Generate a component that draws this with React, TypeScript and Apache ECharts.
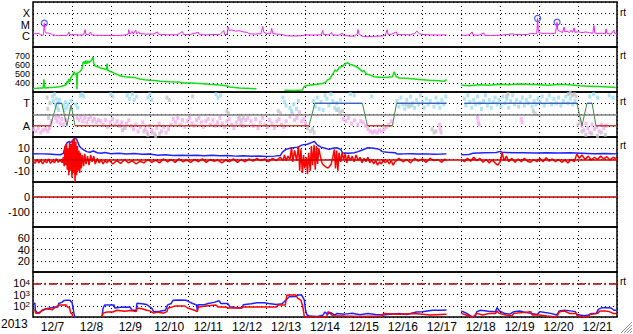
import React, { useEffect, useRef } from "react";
import * as echarts from "echarts";

const FONT = "Liberation Sans, Arial, sans-serif";
const X_MIN = 0;
const X_MAX = 15;
const dayLabels = ["12/7", "12/8", "12/9", "12/10", "12/11", "12/12", "12/13", "12/14", "12/15", "12/16", "12/17", "12/18", "12/19", "12/20", "12/21"];
const yearLabel = "2013";

type P = [number, number | null];

// Panel 1: X-ray flux (W/m2), time in days from 12/7 00:00
const xrayFlux: P[] = [
  [0.0, 1.6e-6], [0.08, 1.5e-6], [0.15, 1.6e-6], [0.2, 1.2e-6], [0.25, 1.1e-6], [0.27, 1.4e-6], [0.29, 1.3e-5], [0.31, 2.5e-6], [0.33, 1.8e-6],
  [0.4, 1.7e-6], [0.46, 1.5e-6], [0.5, 1.2e-6], [0.58, 1.1e-6], [0.66, 1.0e-6], [0.72, 1.1e-6], [0.8, 1.05e-6], [0.88, 1.1e-6], [0.92, 2.2e-6],
  [0.94, 1.3e-6], [1.0, 1.2e-6], [1.1, 1.25e-6], [1.2, 1.15e-6], [1.3, 1.2e-6], [1.34, 3.5e-6], [1.36, 1.3e-6], [1.42, 1.2e-6], [1.48, 2.2e-6],
  [1.5, 1.2e-6], [1.6, 1.1e-6], [1.72, 1.1e-6], [1.85, 1.05e-6], [2.0, 1.1e-6], [2.15, 1.05e-6], [2.3, 1.1e-6], [2.44, 1.3e-6], [2.46, 3.5e-6],
  [2.48, 1.4e-6], [2.55, 2.4e-6], [2.57, 1.4e-6], [2.64, 3.2e-6], [2.66, 1.4e-6], [2.72, 2.3e-6], [2.74, 1.5e-6], [2.8, 1.5e-6], [2.9, 1.4e-6],
  [3.0, 1.4e-6], [3.1, 1.45e-6], [3.2, 2.2e-6], [3.22, 1.4e-6], [3.3, 1.3e-6], [3.45, 1.2e-6], [3.6, 1.25e-6], [3.7, 1.2e-6], [3.84, 2.4e-6],
  [3.86, 1.3e-6], [4.0, 1.2e-6], [4.25, 2.0e-6], [4.27, 1.25e-6], [4.45, 1.2e-6], [4.6, 1.3e-6], [4.8, 1.25e-6], [4.9, 3.0e-6], [4.92, 1.3e-6],
  [4.99, 1.3e-6], [5.01, 6.0e-6], [5.04, 3.0e-6], [5.1, 3.2e-6], [5.2, 2.6e-6], [5.3, 2.8e-6], [5.4, 2.2e-6], [5.5, 2.0e-6], [5.55, 1.5e-6],
  [5.7, 1.4e-6], [5.85, 1.5e-6], [5.9, 6.5e-6], [5.93, 2.0e-6], [6.0, 1.6e-6], [6.1, 1.5e-6], [6.13, 4.5e-6], [6.16, 1.6e-6], [6.25, 1.4e-6],
  [6.4, 1.3e-6], [6.5, 1.0e-6], [6.7, 0.95e-6], [6.9, 1.0e-6], [7.0, 1.2e-6], [7.2, 1.15e-6], [7.4, 1.2e-6], [7.44, 3.0e-6], [7.46, 1.3e-6],
  [7.6, 1.2e-6], [7.67, 2.0e-6], [7.69, 1.2e-6], [7.85, 1.1e-6], [7.95, 1.7e-6], [7.97, 1.1e-6], [8.1, 0.95e-6], [8.25, 0.9e-6], [8.33, 1.5e-6],
  [8.35, 3.5e-6], [8.37, 1.5e-6], [8.45, 0.9e-6], [8.6, 0.85e-6], [8.8, 0.9e-6], [8.97, 0.95e-6], [9.05, 1.2e-6], [9.1, 3.5e-6], [9.12, 1.3e-6],
  [9.2, 1.3e-6], [9.33, 2.2e-6], [9.35, 1.3e-6], [9.5, 1.25e-6], [9.7, 1.2e-6], [9.8, 1.6e-6], [9.86, 2.6e-6], [9.92, 1.5e-6], [10.0, 1.3e-6],
  [10.2, 1.2e-6], [10.4, 1.15e-6], [10.62, 1.2e-6], [10.8, null],
  [11.0, 1.15e-6], [11.1, 1.1e-6], [11.2, 1.2e-6], [11.28, 2.2e-6], [11.3, 1.2e-6], [11.45, 1.1e-6], [11.58, 1.8e-6], [11.6, 1.1e-6], [11.75, 1.05e-6],
  [11.9, 1.1e-6], [12.05, 1.15e-6], [12.2, 1.3e-6], [12.3, 1.5e-6], [12.4, 1.3e-6], [12.55, 1.25e-6], [12.7, 1.3e-6], [12.8, 1.6e-6], [12.9, 1.5e-6],
  [12.94, 1.6e-6], [12.96, 3.4e-5], [12.98, 3.0e-6], [13.0, 1.8e-6], [13.1, 1.6e-6], [13.2, 1.7e-6], [13.3, 1.5e-6], [13.42, 1.7e-6], [13.46, 1.6e-5],
  [13.48, 3.0e-6], [13.55, 2.4e-6], [13.6, 1.9e-6], [13.64, 6.0e-6], [13.66, 2.2e-6], [13.72, 2.5e-6], [13.78, 1.9e-6], [13.82, 3.2e-6], [13.86, 2.0e-6],
  [13.9, 5.0e-6], [13.92, 2.0e-6], [14.0, 2.3e-6], [14.1, 1.9e-6], [14.2, 2.2e-6], [14.3, 1.8e-6], [14.38, 1.7e-6], [14.41, 8.0e-6], [14.43, 1.8e-6],
  [14.5, 1.6e-6], [14.6, 1.7e-6], [14.7, 1.5e-6], [14.72, 4.0e-6], [14.74, 1.6e-6], [14.85, 1.4e-6], [14.92, 3.2e-6], [14.94, 1.6e-6], [15.0, 1.4e-6],
];
const flareMarks: P[] = [[0.29, 1.3e-5], [12.96, 3.5e-5], [13.46, 1.6e-5]];

// Panel 2: solar wind speed (km/s)
const windSpeed: P[] = [
  [0, 340], [0.1, 342], [0.2, 345], [0.26, 345], [0.28, 440], [0.3, 345], [0.44, 350], [0.56, 352], [0.69, 358], [0.8, 372], [0.85, 380],
  [0.88, 420], [0.9, 400], [0.92, 445], [0.95, 415], [0.97, 460], [1.0, 475], [1.03, 500], [1.05, 525], [1.08, 495], [1.12, 505], [1.13, 330],
  [1.14, 510], [1.18, 520], [1.21, 530], [1.24, 545], [1.26, 560], [1.28, 620], [1.31, 640], [1.33, 615], [1.36, 650], [1.38, 610], [1.41, 645],
  [1.44, 625], [1.47, 640], [1.5, 650], [1.54, 690], [1.56, 620], [1.59, 590], [1.63, 585], [1.67, 580], [1.72, 570], [1.78, 560], [1.85, 555],
  [1.89, 545], [1.9, 615], [1.92, 545], [1.97, 530], [2.04, 520], [2.1, 505], [2.17, 495], [2.23, 480], [2.36, 470], [2.49, 465], [2.62, 460],
  [2.74, 445], [2.87, 435], [3.0, 430], [3.13, 428], [3.26, 420], [3.5, 415], [3.77, 410], [3.85, 400], [4.03, 400], [4.28, 395], [4.54, 385],
  [4.79, 378], [4.97, 370], [5.05, 355], [5.31, 345], [5.56, 340], [5.74, 335], [5.8, null],
  [6.46, 320], [6.72, 318], [6.92, 322], [6.97, 365], [7.05, 372], [7.3, 385], [7.44, 395], [7.52, 410], [7.56, 435], [7.62, 445], [7.7, 500],
  [7.76, 545], [7.8, 530], [7.87, 575], [7.95, 585], [8.02, 615], [8.08, 625], [8.13, 610], [8.2, 600], [8.31, 580], [8.38, 560], [8.46, 525],
  [8.5, 540], [8.56, 500], [8.64, 490], [8.77, 470], [8.9, 465], [9.03, 460], [9.23, 470], [9.28, 525], [9.33, 470], [9.41, 455], [9.67, 450],
  [9.92, 440], [10.18, 430], [10.44, 425], [10.56, 418], [10.62, 440], [10.8, null],
  [11.0, 375], [11.21, 370], [11.46, 380], [11.72, 375], [11.97, 385], [12.23, 380], [12.49, 390], [12.74, 385], [13.0, 380], [13.26, 375],
  [13.51, 385], [13.77, 380], [14.03, 370], [14.28, 365], [14.54, 360], [14.79, 355], [14.97, 350],
];

// Panel 3: IMF sector (T = 1, A = -1) and phi-angle dots
const sectorLine: P[] = [
  [0, -1], [0.45, -1], [0.61, 1], [0.74, 1], [0.87, -1], [0.98, 0.85], [1.08, -1], [7.09, -1], [7.24, 1], [8.46, 1], [8.59, -1],
  [9.23, -1], [9.34, 1], [10.62, 1], [10.8, null], [11.08, 1], [13.97, 1], [14.1, -1], [14.23, 1], [14.36, 1], [14.46, -1], [15, -1],
];
const towardDots: P[] = [
  [0.5, 1.6], [0.52, 1.2], [0.55, 1.8], [0.57, 0.9], [0.6, 1.4], [0.62, 0.6], [0.64, 1.0], [0.66, 0.4], [0.68, 1.3],
  [0.78, 0.8], [0.8, 0.4], [0.83, 1.1], [0.86, 0.6], [0.9, 0.9], [0.95, 0.5], [0.98, 1.2],
  [1.1, 0.9], [1.15, 0.6], [1.22, 1.7], [1.26, 1.8], [1.3, 1.6], [2.0, 1.8], [2.05, 1.6],
  [2.42, 1.7], [2.48, 1.4], [2.55, 1.8], [2.6, 1.3], [2.66, 1.6], [2.95, 1.5], [3.0, 1.8], [3.05, 1.3],
  [4.7, 1.8], [4.75, 1.5], [4.82, 1.7],
  [6.42, 1.5], [6.46, 1.1], [6.5, 0.8], [6.6, 0.6], [6.64, 0.3], [6.7, 0.9], [6.77, 0.5], [6.82, 1.2],
  [7.2, 1.2], [7.25, 0.7], [7.3, 1.5], [7.35, 0.5], [7.4, 1.1], [7.45, 0.4], [7.5, 1.7], [7.55, 1.4], [7.6, 0.8], [7.65, 1.8], [7.7, 1.2],
  [7.75, 0.6], [7.8, 1.0], [7.85, 0.5], [7.9, 1.3], [8.15, 1.8], [8.25, 1.7], [8.7, 1.6],
  [9.35, 1.2], [9.4, 0.7], [9.45, 1.5], [9.5, 0.9], [9.55, 0.5], [9.6, 1.3], [9.65, 0.8], [9.7, 1.6], [9.75, 1.0], [9.8, 0.6], [9.85, 1.3],
  [9.9, 0.9], [9.95, 1.7], [10.0, 1.1], [10.05, 0.6], [10.1, 1.4], [10.15, 0.9], [10.2, 1.2], [10.3, 0.7], [10.35, 1.5], [10.4, 1.0],
  [10.45, 0.6], [10.5, 1.3], [10.55, 0.9], [10.6, 1.6],
  [11.08, 1.4], [11.12, 0.8], [11.17, 1.7], [11.22, 1.1], [11.27, 0.6], [11.32, 1.3], [11.37, 0.9], [11.42, 1.6], [11.47, 1.0], [11.52, 0.5],
  [11.57, 1.2], [11.62, 1.7], [11.67, 0.8], [11.72, 1.3], [11.77, 0.6], [11.82, 1.1], [11.87, 1.5], [11.92, 0.9], [11.97, 1.3], [12.02, 0.7],
  [12.07, 1.6], [12.12, 1.0], [12.17, 1.4], [12.22, 0.6], [12.27, 1.2], [12.32, 1.7], [12.37, 0.9], [12.42, 1.3], [12.47, 0.7], [12.52, 1.1],
  [12.57, 1.5], [12.62, 0.8], [12.67, 1.3], [12.72, 1.0], [12.77, 1.6], [12.82, 0.7], [12.87, 1.2], [12.92, 0.9], [12.97, 1.4],
  [13.02, 1.1], [13.08, 1.6], [13.13, 0.8], [13.2, 1.3], [13.26, 1.7], [13.32, 0.9], [13.38, 1.4], [13.44, 1.0], [13.5, 1.5], [13.56, 0.8],
  [13.62, 1.2], [13.68, 1.6], [13.74, 1.0], [13.8, 1.4], [13.86, 0.9], [13.92, 1.2], [14.3, 1.6], [14.4, 1.8], [14.5, 1.5], [14.8, 1.7], [14.9, 1.5],
];
const awayDots: P[] = [
  [0.02, -1.3], [0.08, -1.5], [0.14, -1.2], [0.2, -1.6], [0.26, -1.4], [0.32, -1.3], [0.38, -1.5], [0.43, -1.1], [0.46, -0.9], [0.48, -0.6],
  [0.58, -0.3], [0.62, -0.6], [0.66, -0.2], [0.7, -0.8], [0.74, -0.4], [0.78, -0.9], [0.84, -0.5],
  [1.13, -0.3], [1.18, -0.5], [1.23, -0.2], [1.28, -0.6], [1.33, -0.3], [1.38, -0.7], [1.43, -0.4], [1.48, -0.2], [1.53, -0.6], [1.58, -0.4],
  [1.63, -0.7], [1.68, -0.5], [1.74, -0.6], [1.8, -0.9], [1.86, -0.5], [1.92, -1.1], [1.98, -0.7], [2.04, -0.4], [2.1, -0.9], [2.16, -0.6],
  [2.22, -1.0], [2.28, -0.7], [2.34, -1.2], [2.4, -0.8], [2.46, -0.5], [2.52, -1.0], [2.58, -1.3], [2.64, -0.9], [2.7, -1.5], [2.76, -1.1],
  [2.82, -0.7], [2.88, -1.3], [2.94, -1.6], [3.0, -1.0], [3.06, -1.4], [3.12, -1.7], [3.18, -1.2], [3.24, -0.8], [3.3, -1.5], [3.36, -1.1],
  [3.42, -1.6], [3.48, -1.3], [3.54, -0.9], [3.6, -0.4], [3.66, -0.7], [3.72, -0.3], [3.78, -0.9], [3.84, -0.5], [3.9, -1.1], [3.96, -0.6],
  [4.02, -0.3], [4.08, -0.8], [4.14, -1.0], [4.2, -0.5], [4.26, -0.3], [4.32, -0.7], [4.38, -1.1], [4.44, -0.6], [4.5, -0.4], [4.56, -0.9],
  [4.62, -0.5], [4.68, -1.0], [4.74, -0.7], [4.8, -0.3], [4.86, -0.8], [4.92, -1.1], [4.98, -0.6], [5.04, -0.4], [5.1, -0.9], [5.16, -1.2],
  [5.22, -0.7], [5.28, -0.4], [5.34, -0.8], [5.4, -1.0], [5.46, -0.5], [5.52, -0.3], [5.6, -0.6], [5.66, -1.0], [5.72, -0.4], [5.78, -1.2],
  [5.84, -0.7], [5.9, -0.3], [5.96, -0.9], [6.02, -1.1], [6.08, -0.5], [6.14, -0.8], [6.2, -1.2], [6.26, -0.6], [6.32, -0.4], [6.38, -0.9],
  [6.44, -1.1], [6.5, -0.6], [6.6, -0.2], [6.66, 0.1], [6.72, -0.5], [6.78, -0.3], [6.84, 0.2], [6.9, -0.6], [6.96, -0.4], [7.0, -0.8],
  [7.97, -0.4], [8.04, -0.6], [8.1, -0.3], [8.18, -0.8], [8.26, -0.5], [8.34, -0.9], [8.42, -0.6], [8.48, -0.7], [8.54, -1.0], [8.6, -1.3],
  [8.66, -1.5], [8.72, -1.6], [8.78, -1.5], [8.84, -1.6], [8.9, -1.4], [8.96, -1.5], [9.02, -1.3], [9.08, -1.1], [9.14, -0.9], [9.2, -0.6],
  [10.44, -0.9], [10.46, -1.3], [10.48, -1.6], [11.42, -0.3], [11.44, -0.7], [11.46, -0.9], [12.54, -0.4], [12.56, -0.7],
  [14.05, -0.6], [14.1, -1.0], [14.15, -1.4], [14.2, -0.8], [14.25, -1.2], [14.3, -1.6], [14.36, -0.9], [14.42, -1.3], [14.48, -1.1],
  [14.54, -1.5], [14.6, -0.9], [14.66, -1.2], [14.72, -1.0],
];
const otherDots: P[] = [
  [0.36, 1.5], [0.38, 0.5], [0.4, -0.3], [0.42, -1.2], [0.44, 1.0], [0.47, -0.6], [2.23, -1.0], [2.3, -1.4], [2.37, -1.2],
  [2.85, -1.5], [2.95, -1.8], [3.05, -1.6], [3.15, -1.9], [3.25, -1.7], [3.44, 1.5], [3.5, 1.3], [4.1, 1.6],
  [4.98, 0.3], [5.02, 0.1], [5.3, -0.1], [5.35, -0.5], [5.4, -0.3], [6.3, 0.3], [6.36, 0.1],
  [7.05, -1.2], [7.12, -1.5], [7.18, -1.3], [7.22, -1.6], [7.8, 0.4], [7.88, 0.2], [7.95, 0.3],
  [9.58, 0.9], [9.65, 0.7], [9.72, 0.8], [10.25, -1.3], [10.3, -1.6], [10.35, -1.5], [12.17, 1.6], [12.2, 1.8], [12.85, 0.3], [12.9, 0.1],
  [13.75, 1.8], [13.8, 1.9], [13.85, 1.7], [13.9, 1.8], [13.95, 1.6], [14.0, -0.9], [14.1, -1.5], [14.2, -1.8], [14.35, -1.7], [14.5, -1.9],
  [14.6, -1.6], [14.7, -1.8],
];

// Panel 4: IMF Bt (blue) and Bz (red), nT
const imfBt: P[] = [
  [0, 5.2], [0.2, 5.0], [0.4, 4.8], [0.56, 4.5], [0.7, 4.2], [0.78, 5.5], [0.82, 11], [0.87, 14.5], [0.92, 16], [0.97, 15], [1.03, 17.5],
  [1.08, 19], [1.12, 18], [1.15, 15.5], [1.19, 12], [1.24, 10], [1.3, 8.5], [1.38, 7], [1.46, 6.5], [1.55, 7.5], [1.65, 6], [1.75, 5.5],
  [1.85, 6.2], [2.0, 5.2], [2.2, 5.5], [2.4, 4.8], [2.6, 5.3], [2.8, 4.6], [3.0, 4.8], [3.2, 3.8], [3.4, 4.2], [3.6, 3.6], [3.8, 3.8],
  [4.0, 3.5], [4.2, 3.8], [4.4, 3.4], [4.6, 3.7], [4.8, 3.3], [5.0, 3.6], [5.2, 3.0], [5.4, 3.4], [5.6, 2.8], [5.8, 3.2], [6.0, 2.6],
  [6.2, 3.0], [6.35, 3.5], [6.42, 7], [6.5, 9], [6.6, 10], [6.8, 11], [6.92, 13], [7.05, 13.5], [7.15, 15], [7.23, 16], [7.3, 13],
  [7.4, 11], [7.5, 10], [7.6, 9], [7.7, 10], [7.8, 10.5], [7.9, 9], [7.95, 6], [8.1, 5.5], [8.25, 6], [8.35, 7], [8.46, 8.5], [8.6, 10.5],
  [8.75, 10], [8.9, 9], [8.97, 7], [9.1, 6.5], [9.3, 6], [9.35, 5], [9.5, 5], [9.7, 5.2], [9.9, 4.8], [10.1, 5.0], [10.3, 4.6], [10.5, 4.8],
  [10.62, 5.0], [10.8, null], [11.0, 4.2], [11.2, 4.5], [11.3, 5.5], [11.6, 6.0], [11.9, 6.2], [12.0, 7.2], [12.05, 6.5], [12.3, 6.0],
  [12.6, 6.1], [12.9, 5.8], [13.2, 6.0], [13.5, 5.8], [13.8, 6.0], [14.1, 5.6], [14.4, 5.2], [14.7, 5.4], [15, 5.0],
];
const imfBz: P[] = [
  [0, -1], [0.05, -3.5], [0.1, 0], [0.15, -3], [0.2, -0.5], [0.25, -4], [0.3, -1], [0.35, -3], [0.4, 0.5], [0.45, -3.5], [0.5, -1],
  [0.55, -3], [0.6, 0.5], [0.65, -2.5], [0.7, -0.5], [0.75, -3], [0.78, 2], [0.8, -6], [0.82, 12], [0.84, -5], [0.86, 14], [0.88, -9],
  [0.9, 10], [0.92, -14], [0.94, 16], [0.96, -10], [0.98, 14], [1.0, -16], [1.02, 17], [1.04, -12], [1.06, 19], [1.08, -20], [1.1, 16],
  [1.12, -14], [1.14, 12], [1.16, -10], [1.18, 8], [1.2, -12], [1.22, 6], [1.24, -8], [1.27, 4], [1.3, -6], [1.33, 5], [1.36, -4],
  [1.4, 3], [1.44, -5], [1.48, 4], [1.52, -2], [1.56, 3], [1.6, -4], [1.65, 1], [1.7, -3], [1.75, 0], [1.8, -4], [1.85, -1], [1.9, -3],
  [1.95, -0.5], [2.05, -4], [2.15, -1], [2.25, -3.5], [2.35, 0], [2.45, -3], [2.55, -1], [2.65, -4], [2.75, -1.5], [2.85, -3], [2.95, 0],
  [3.05, -2.5], [3.15, -0.5], [3.25, -3], [3.35, 0.5], [3.45, -2], [3.55, 0], [3.65, -2.5], [3.75, 0.5], [3.85, -2], [3.95, -0.5],
  [4.05, -2.5], [4.15, 0], [4.25, -2], [4.35, 0.5], [4.45, -2.5], [4.55, 0], [4.65, -1.5], [4.75, -0.5], [4.85, -3], [4.95, -0.5],
  [5.05, -2], [5.15, 0.5], [5.25, -2.5], [5.35, 0], [5.45, -2], [5.55, 0.5], [5.65, -1.5], [5.75, 1], [5.85, -1], [5.95, 0.5], [6.05, -2],
  [6.15, 1], [6.25, -1], [6.35, 2], [6.42, -1], [6.46, 4], [6.5, -1], [6.55, 3], [6.6, 0], [6.64, 11], [6.67, -2], [6.72, 8], [6.77, -1],
  [6.82, 12], [6.85, -10], [6.88, 9], [6.92, -12], [6.95, 4], [6.98, -8], [7.02, 2], [7.05, -13], [7.08, 6], [7.12, -10], [7.15, 12],
  [7.18, -5], [7.22, 13], [7.25, -9], [7.28, 12], [7.31, -4], [7.34, 10], [7.38, 3], [7.42, -3], [7.46, -5], [7.5, -6], [7.54, -7],
  [7.58, -7.5], [7.62, -6], [7.66, -4], [7.7, 2], [7.74, 9], [7.77, -8], [7.8, 8], [7.83, -10], [7.86, 6], [7.9, -2], [7.94, 6], [7.98, 0],
  [8.02, 5], [8.06, -3], [8.1, 4], [8.15, -1], [8.2, 3], [8.25, -2], [8.3, 4], [8.35, -1], [8.4, 2], [8.45, -3], [8.5, 1], [8.55, -2],
  [8.6, 2], [8.65, -3], [8.7, 0], [8.75, -4], [8.8, -1], [8.85, -5], [8.9, -2], [8.95, -4], [9.0, 0], [9.05, -3], [9.1, -1], [9.15, -4],
  [9.2, -1], [9.25, -5], [9.3, -2], [9.4, 1], [9.5, -2], [9.6, 0], [9.7, -3], [9.8, 1], [9.9, -1.5], [10.0, 0.5], [10.1, -2.5], [10.2, 1],
  [10.3, -1], [10.4, 0], [10.5, -2.5], [10.58, 0.5], [10.62, -1], [10.8, null],
  [11.0, 0], [11.08, -2], [11.16, 1], [11.24, -1.5], [11.32, 2], [11.4, -1], [11.48, 1], [11.56, -2.5], [11.64, 0], [11.72, -3], [11.8, -0.5],
  [11.88, -3.5], [11.94, -5], [12.0, -2], [12.05, 6], [12.1, -1], [12.16, 3], [12.22, -2], [12.3, 1], [12.38, -2.5], [12.46, 0.5], [12.54, -2],
  [12.62, 1], [12.7, -1.5], [12.78, -2.5], [12.86, 0], [12.94, -2], [13.02, 1], [13.1, -2], [13.18, 1.5], [13.26, -1.5], [13.34, 0.5],
  [13.42, -2], [13.5, 0], [13.58, -2.5], [13.66, -0.5], [13.74, -3], [13.82, 0], [13.9, -2], [13.97, 5], [14.03, 1], [14.1, 4], [14.18, 0],
  [14.26, 3], [14.34, -0.5], [14.42, 2], [14.5, 0], [14.58, 3], [14.66, 0.5], [14.74, 2.5], [14.82, -0.5], [14.9, 2], [15.0, 0.5],
];

// Panel 5: Dst (no data drawn in the reference), zero level
const dstZero = 0;

// Panel 7: electron flux (blue / red) and alert level
const electronBlue: P[] = [
  [0, 165], [0.05, 165], [0.06, 40], [0.12, 22], [0.2, 30], [0.23, 40], [0.33, 55], [0.44, 63], [0.55, 72], [0.64, 79], [0.66, 160],
  [0.74, 200], [0.8, 300], [0.87, 316], [0.95, 316], [0.97, 230], [1.0, 230], [1.03, 60], [1.06, 15], [1.08, 10], [1.12, 10], [1.14, null],
  [1.77, 10], [1.8, 60], [1.84, 117], [1.95, 115], [2.08, 117], [2.1, 63], [2.2, 70], [2.35, 79], [2.5, 72], [2.54, 40], [2.65, 40],
  [2.67, 165], [2.8, 150], [2.92, 130], [3.0, 79], [3.05, 60], [3.1, 30], [3.26, 32], [3.4, 40], [3.46, 120], [3.55, 160], [3.6, 316],
  [3.75, 320], [3.93, 316], [4.0, 230], [4.1, 160], [4.2, 120], [4.22, 40], [4.24, 120], [4.4, 125], [4.5, 160], [4.65, 200], [4.78, 280],
  [4.82, 160], [5.0, 160], [5.06, 80], [5.25, 65], [5.36, 60], [5.4, 120], [5.6, 150], [5.75, 185], [5.95, 185], [6.05, 160], [6.25, 130],
  [6.4, 150], [6.45, 230], [6.58, 630], [6.75, 650], [6.8, 900], [6.9, 880], [6.94, 500], [6.97, 316], [7.0, 40], [7.04, 15], [7.1, 12],
  [7.3, 11], [7.44, 14], [7.5, 28], [7.56, 18], [7.65, 25], [7.75, 15], [7.8, 20], [8.0, 18], [8.2, 22], [8.4, 16], [8.6, 20], [8.8, 17],
  [9.0, 15], [9.2, 18], [9.4, 20], [9.6, 17], [9.85, 28], [10.0, 30], [10.26, 40], [10.5, 40], [10.62, 42], [10.8, null],
  [11.0, 34], [11.13, 22], [11.25, 12], [11.35, 10], [11.4, 30], [11.5, 40], [11.7, 32], [11.88, 30], [11.92, 68], [11.98, 34], [12.1, 22],
  [12.25, 18], [12.35, 30], [12.5, 34], [12.65, 25], [12.8, 21], [12.95, 17], [13.02, 30], [13.15, 25], [13.3, 21], [13.45, 15], [13.52, 34],
  [13.65, 40], [13.8, 35], [13.93, 30], [13.97, 17], [14.15, 13], [14.27, 15], [14.35, 21], [14.47, 21], [14.52, 48], [14.62, 68],
  [14.75, 68], [14.85, 63], [14.92, 40], [14.98, 40],
];
const electronRed: P[] = [
  [0, 40], [0.05, 40], [0.07, 22], [0.17, 22], [0.2, 30], [0.26, 40], [0.35, 55], [0.5, 45], [0.58, 79], [0.7, 117], [0.85, 117], [0.88, 79],
  [0.94, 63], [0.97, 22], [1.0, 22], [1.02, 10], [1.05, null],
  [1.77, 10], [1.8, 22], [1.9, 28], [2.05, 28], [2.15, 40], [2.35, 32], [2.5, 38], [2.65, 30], [2.68, 63], [2.8, 55], [2.92, 40], [3.0, 35],
  [3.1, 22], [3.2, 28], [3.35, 22], [3.44, 30], [3.47, 63], [3.58, 79], [3.65, 95], [3.9, 95], [3.97, 63], [4.15, 40], [4.22, 30], [4.25, 79],
  [4.5, 100], [4.7, 117], [4.75, 79], [4.95, 79], [5.0, 63], [5.35, 63], [5.4, 79], [5.8, 79], [6.25, 79], [6.3, 117], [6.48, 117],
  [6.52, 850], [6.6, 912], [6.75, 880], [6.8, 460], [6.88, 316], [6.92, 117], [6.95, 30], [6.97, 10], [7.54, 10], [7.58, 30], [7.64, 20],
  [7.7, 13], [8.0, 12], [8.4, 11], [8.97, 12], [9.0, 20], [9.4, 18], [9.8, 20], [10.2, 15], [10.62, 18], [10.8, null],
  [11.0, 21], [11.13, 15], [11.3, 10], [11.4, 21], [11.55, 15], [11.72, 21], [11.88, 21], [11.92, 34], [11.97, 21], [12.15, 15], [12.3, 13],
  [12.35, 21], [12.6, 25], [12.79, 30], [12.82, 15], [13.0, 15], [13.2, 12], [13.45, 10], [13.52, 30], [13.65, 34], [13.78, 21], [13.95, 21],
  [13.98, 13], [14.15, 10], [14.27, 11], [14.3, 17], [14.5, 21], [14.56, 34], [14.7, 34], [14.8, 30], [14.9, 21], [14.98, 21],
];
const electronAlert = 1e4;

const sectorAway = sectorLine.map(([d, v]) => [d, v === -1 ? v : null]);
const sectorToward = sectorLine.map(([d, v]) => [d, v === 1 ? v : null]);

const PANEL_TOP = 2;
const PANEL_H = 45;
const N = 7;

const dotted = { color: "#000", type: [1, 3], width: 1 };
const baseLabel = { color: "#000", fontSize: 11, fontFamily: FONT, margin: 3, lineHeight: 10 };

function yBase(extra: any) {
  return {
    axisLine: { show: false },
    axisTick: { show: false },
    splitLine: { show: true, lineStyle: dotted },
    ...extra,
    axisLabel: { ...baseLabel, ...(extra.axisLabel || {}) },
  };
}

export default function App() {
  const ref = useRef<HTMLDivElement>(null);
  useEffect(() => {
    const chart = echarts.init(ref.current!, null, { renderer: "svg" });
    const grids = Array.from({ length: N }, (_, i) => ({
      left: 33,
      right: 16,
      top: PANEL_TOP + PANEL_H * i,
      height: PANEL_H,
      show: true,
      borderColor: "#000",
      borderWidth: 1.5,
      backgroundColor: "transparent",
    }));
    const xAxes: any[] = grids.map((_, i) => ({
      type: "value",
      gridIndex: i,
      min: X_MIN,
      max: X_MAX,
      interval: 1,
      position: i === N - 1 ? "top" : "bottom",
      axisLine: { show: false },
      axisTick: { show: false },
      axisLabel: { show: false },
      splitLine: { show: true, lineStyle: dotted },
    }));
    xAxes.push({
      type: "category",
      gridIndex: N - 1,
      data: dayLabels,
      position: "bottom",
      boundaryGap: true,
      axisLine: { show: false },
      axisTick: { show: false },
      splitLine: { show: false },
      axisLabel: { color: "#000", fontSize: 12, fontFamily: FONT, margin: 4, interval: 0 },
    });
    const exp = (v: number) => Math.round(Math.log10(v));
    const yAxes = [
      yBase({
        type: "log", logBase: 10, gridIndex: 0, min: 1e-7, max: 1e-3,
        axisLabel: { formatter: (v: number) => ({ "-4": "X", "-5": "M", "-6": "C" } as any)[String(exp(v))] || "" },
      }),
      yBase({
        type: "value", gridIndex: 1, min: 300, max: 800, interval: 100,
        axisLabel: { showMinLabel: false, showMaxLabel: false, fontSize: 9, lineHeight: 8 },
      }),
      yBase({
        type: "value", gridIndex: 2, min: -2, max: 2, interval: 1,
        axisLabel: { formatter: (v: number) => (v === 1 ? "T" : v === -1 ? "A" : "") },
      }),
      yBase({ type: "value", gridIndex: 3, min: -20, max: 20, interval: 10, axisLabel: { showMinLabel: false, showMaxLabel: false } }),
      yBase({ type: "value", gridIndex: 4, min: -200, max: 100, interval: 100, axisLabel: { showMinLabel: false, showMaxLabel: false } }),
      yBase({ type: "value", gridIndex: 5, min: 0, max: 80, interval: 20, axisLabel: { showMinLabel: false, showMaxLabel: false } }),
      yBase({
        type: "log", logBase: 10, gridIndex: 6, min: 1e1, max: 1e5,
        axisLabel: {
          formatter: (v: number) => {
            const e = exp(v);
            return e >= 2 && e <= 4 ? `{b|10}{s|${e}}` : "";
          },
          rich: {
            b: { fontSize: 11, fontFamily: FONT, color: "#000", lineHeight: 10 },
            s: { fontSize: 8, fontFamily: FONT, color: "#000", lineHeight: 4, verticalAlign: "top" },
          },
        },
      }),
    ];
    const line = (i: number, data: any, color: string, width = 1.5, extra: any = {}) => ({
      type: "line",
      xAxisIndex: i,
      yAxisIndex: i,
      data,
      showSymbol: false,
      symbol: "none",
      lineStyle: { color, width },
      itemStyle: { color },
      silent: true,
      ...extra,
    });
    const dots = (data: any, color: string) => ({
      type: "scatter",
      xAxisIndex: 2,
      yAxisIndex: 2,
      data,
      symbol: "rect",
      symbolSize: [3, 4],
      itemStyle: { color },
      silent: true,
    });
    const hLine = (value: number, color: string, type: any, width = 1.5) => ({
      silent: true,
      symbol: ["none", "none"],
      label: { show: false },
      lineStyle: { color, type, width },
      data: [{ yAxis: value }],
    });
    const series: any[] = [
      line(0, xrayFlux, "#f020f0", 1),
      {
        type: "scatter", xAxisIndex: 0, yAxisIndex: 0, data: flareMarks, symbol: "circle", symbolSize: 6,
        itemStyle: { color: "rgba(0,0,0,0)", borderColor: "#2030ff", borderWidth: 1.2 }, silent: true,
      },
      line(1, windSpeed, "#10e010", 1.5),
      { ...dots(otherDots, "#c4c4c4"), markLine: hLine(0, "#808080", "solid", 1.5) },
      dots(awayDots, "#f4aaf0"),
      dots(towardDots, "#9edcf4"),
      line(2, sectorLine, "#3f873f", 1),
      line(2, sectorAway, "#e02020", 1),
      line(2, sectorToward, "#3050f0", 1),
      line(3, imfBt, "#2020ff", 1.5),
      line(3, imfBz, "#ff0000", 1.5, { markLine: hLine(0, "#cc0000", "solid", 1.5) }),
      line(4, [[X_MIN, dstZero], [X_MAX, dstZero]], "#c00000", 1.5),
      line(6, electronBlue, "#2020ff", 1.5, { markLine: hLine(electronAlert, "#b00000", [8, 3, 2, 3], 1.5) }),
      line(6, electronRed, "#ff0000", 1.5),
    ];
    const rtLevels = [12.5, 55.5, 101.5, 145.5, 281.5];
    const graphic: any[] = [
      {
        type: "text", x: 1, y: 324,
        style: { text: yearLabel, font: `12px ${FONT}`, fill: "#000", verticalAlign: "middle", align: "left" },
      },
      ...rtLevels.map((y) => ({
        type: "text", x: 620, y,
        style: { text: "rt", font: `10px ${FONT}`, fill: "#000", verticalAlign: "middle", align: "left" },
      })),
      ...[0, 3, 6, 9].map((k) => ({
        type: "line",
        shape: { x1: 621 + k, y1: 333, x2: 632, y2: 322 + k },
        style: { stroke: "#909090", lineWidth: 1 },
      })),
    ];
    chart.setOption({
      animation: false,
      backgroundColor: "#fff",
      textStyle: { fontFamily: FONT },
      grid: grids,
      xAxis: xAxes,
      yAxis: yAxes,
      series,
      graphic,
    });
    return () => chart.dispose();
  }, []);
  return (
    <div
      ref={ref}
      style={{ position: "fixed", left: 0, top: 0, width: 633, height: 334, background: "#fff" }}
    />
  );
}
